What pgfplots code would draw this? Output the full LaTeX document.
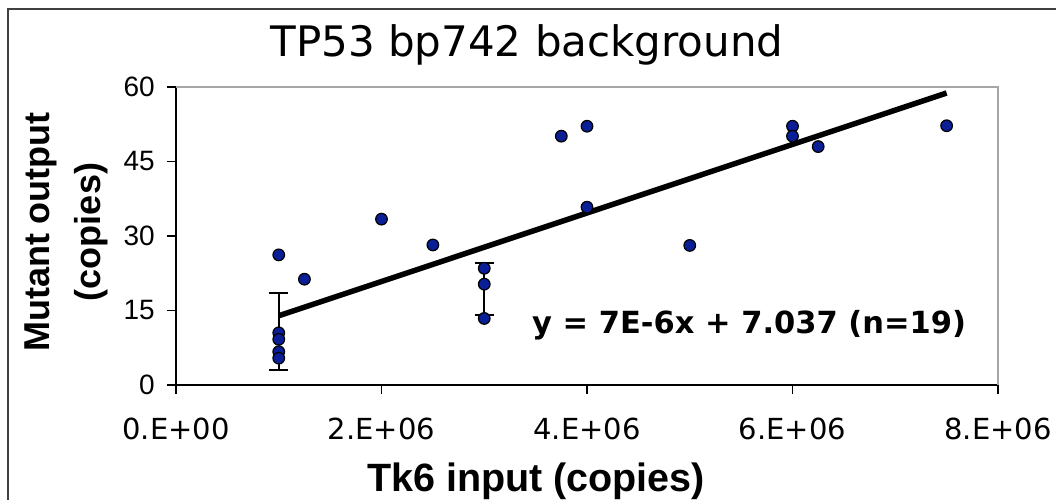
\documentclass[border=0pt]{standalone}
\usepackage{fontspec}
\setmainfont{Liberation Sans}
\newfontfamily\verdanalike{DejaVu Sans}
\usepackage{pgfplots}
\pgfplotsset{compat=1.18}
\definecolor{markfill}{RGB}{10,30,150}

\begin{document}
\begin{tikzpicture}[x=1pt,y=1pt]
\useasboundingbox (0,0) rectangle (1056,500);
\fill[white] (0,0) rectangle (1056,500);
% chart frame
\draw[black!75, line width=1.6pt] (8,0) -- (8,491) -- (1056,491);

\begin{axis}[
  at={(176pt,115pt)}, anchor=south west,
  scale only axis, width=822pt, height=298pt,
  xmin=0, xmax=8e6, ymin=0, ymax=60,
  axis x line*=bottom, axis y line*=left,
  axis line style={-, black, line width=1.3pt},
  xtick={0,2e6,4e6,6e6,8e6},
  xticklabels={0.E+00,2.E+06,4.E+06,6.E+06,8.E+06},
  scaled x ticks=false,
  ytick={0,15,30,45,60},
  /pgf/number format/assume math mode=true,
  tick align=outside,
  major tick length=9pt,
  tick style={black, line width=1.3pt},
  xticklabel style={font=\verdanalike\fontsize{29}{31}\selectfont, anchor=base, inner sep=0pt, yshift=-46pt},
  yticklabel style={font=\fontsize{28}{30}\selectfont, anchor=east, inner sep=0pt, xshift=-12pt},
  clip=false,
]
% plot-area border on top and right
\draw[gray!70, line width=2pt] (rel axis cs:0,1) -- (rel axis cs:1,1) -- (rel axis cs:1,0);

% standard deviation of the replicate groups
\addplot[draw=none, mark=none,
  error bars/.cd, y dir=both, y explicit,
  error bar style={draw=black, line width=2pt},
  error mark options={draw=black, rotate=90, mark size=9.5pt, line width=2pt}]
  coordinates {(1e6,10.75) +- (0,7.75) (3e6,19.25) +- (0,5.25)};

% linear trend line
\addplot[black, line width=5.5pt] coordinates {(1e6,13.94) (7.5e6,58.79)};

% measurements
\addplot[only marks, mark=*, mark size=5.8pt,
  mark options={fill=markfill, draw=black, line width=1.2pt}] table {
x y
1e6 26.2
1e6 10.5
1e6 9.2
1e6 6.7
1e6 5.4
1.25e6 21.3
2e6 33.4
2.5e6 28.2
3e6 23.5
3e6 20.3
3e6 13.4
3.75e6 50.1
4e6 52.1
4e6 35.8
5e6 28.1
6e6 52.1
6e6 50.1
6.25e6 48.0
7.5e6 52.2
};
\end{axis}

\node[anchor=base, inner sep=0pt, font=\verdanalike\fontsize{42}{48}\selectfont] at (527,443) {TP53 bp742 background};
\node[anchor=base west, inner sep=0pt, font=\verdanalike\bfseries\fontsize{30.5}{34}\selectfont] at (532,166) {y = 7E-6x + 7.037 (n=19)};
\node[anchor=base, inner sep=0pt, font=\bfseries\fontsize{39.5}{44}\selectfont] at (536,8.3) {Tk6 input (copies)};
\node[rotate=90, anchor=base, inner sep=0pt, font=\bfseries\fontsize{36}{40}\selectfont] at (49,268) {Mutant output};
\node[rotate=90, anchor=base, inner sep=0pt, font=\bfseries\fontsize{36}{40}\selectfont] at (100,268) {(copies)};
\end{tikzpicture}
\end{document}
